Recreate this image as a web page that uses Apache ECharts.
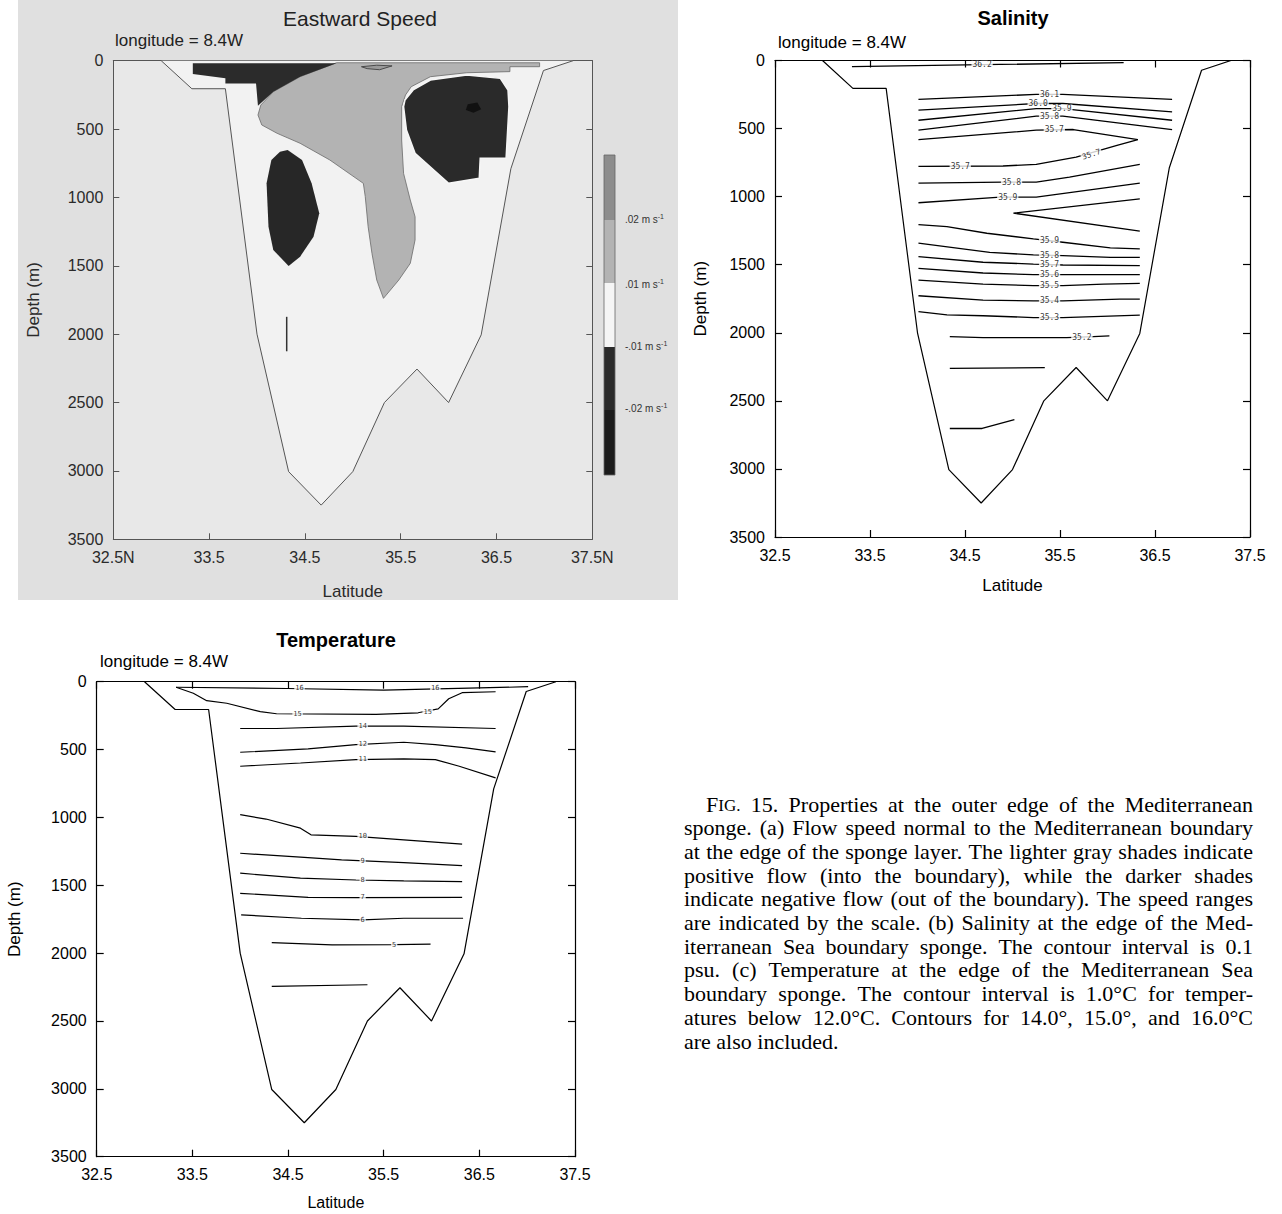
<!DOCTYPE html>
<html><head><meta charset="utf-8">
<script src="https://cdn.jsdelivr.net/npm/echarts/dist/echarts.min.js"></script>
<style>
html,body{margin:0;padding:0;background:#fff;}
#wrap{position:relative;width:1282px;height:1214px;}
#page{position:absolute;left:18px;top:0;width:660px;height:600px;background:#e0e0e0;}
#c{position:absolute;left:0;top:0;width:1282px;height:1214px;}
</style>
</head><body><div id="wrap"><div id="page"></div><div id="c"></div></div>
<script>
// ---------- tick labels ----------
const latTicksSpeed = ['32.5N','33.5','34.5','35.5','36.5','37.5N'];
const latTicks = ['32.5','33.5','34.5','35.5','36.5','37.5'];

// ---------- shared bottom topography (lat, depth m) ----------
const bottomLat   = [33.0, 33.32, 33.67, 34.0, 34.33, 34.67, 35.0, 35.33, 35.67, 36.0, 36.34, 36.65, 36.99, 37.3];
const bottomDepth = [0,    205,   205,   2000, 3005,  3250,  3005, 2500,  2255,  2500, 2005,  790,   72,    0];

// ---------- (a) eastward speed regions [lat, depth] ----------
const speedPos01 = [[34.83,15],[34.45,117],[34.17,227],[34.04,324],[34.01,397],[34.05,470],[34.21,531],[34.45,604],[34.76,726],[35.11,897],[35.13,994],[35.16,1214],[35.2,1409],[35.25,1604],[35.32,1738],[35.48,1604],[35.6,1482],[35.65,1311],[35.65,1141],[35.6,1019],[35.53,824],[35.51,580],[35.51,336],[35.55,251],[35.61,190],[35.81,117],[36.19,88],[36.64,80],[36.64,44],[36.95,44],[36.95,15]];
const speedPos02 = [[35.09,44],[35.25,33],[35.41,38],[35.28,66],[35.15,58]];
const speedNegTop = [[33.33,19],[33.33,97],[33.67,129],[33.67,166],[33.99,166],[34.01,330],[34.17,227],[34.45,117],[34.83,19]];
const speedNegLeft = [[34.32,653],[34.47,726],[34.57,897],[34.65,1116],[34.59,1287],[34.45,1433],[34.33,1501],[34.17,1384],[34.12,1214],[34.1,897],[34.15,726],[34.24,665]];
const speedNegRight = [[35.545,287],[35.63,214],[35.81,141],[36.19,105],[36.54,129],[36.62,214],[36.63,336],[36.6,714],[36.33,714],[36.32,860],[36.0,897],[35.65,677],[35.56,507],[35.53,336]];
const speedNeg02 = [[36.2,318],[36.3,305],[36.34,355],[36.26,380],[36.18,360]];
const speedTick = [[34.31,1873],[34.31,2125]];

// ---------- (b) salinity contours [lat, depth] ----------
const sal362  = [[33.31,45],[34.68,31],[36.17,16]];
const sal361  = [[34.01,286],[35.25,249],[35.53,249],[36.68,286]];
const sal360  = [[34.01,365],[35.25,316],[35.53,316],[36.68,377]];
const sal359a = [[34.01,439],[35.25,353],[35.53,353],[36.68,439]];
const sal358a = [[34.01,512],[35.25,409],[35.53,409],[36.68,507]];
const sal357a = [[34.01,581],[35.25,512],[35.64,507],[36.32,581],[36.1,623],[35.67,709],[35.25,763],[34.9,775],[34.01,777]];
const sal358b = [[34.01,900],[34.9,893],[35.25,893],[35.6,856],[36.34,763]];
const sal359b = [[34.01,1045],[34.87,1004],[35.25,1004],[36.34,900]];
const sal360b = [[36.34,1016],[35.01,1121],[36.34,1254]];
const sal359c = [[34.01,1205],[34.31,1220],[34.73,1269],[35.22,1310],[35.53,1335],[36.03,1377],[36.34,1384]];
const sal358c = [[34.01,1342],[34.76,1409],[35.22,1428],[35.53,1433],[36.03,1446],[36.34,1446]];
const sal357c = [[34.01,1441],[34.69,1482],[35.22,1495],[35.53,1502],[36.34,1507]];
const sal356  = [[34.01,1527],[34.69,1561],[35.22,1573],[36.34,1573]];
const sal355  = [[34.01,1613],[34.69,1642],[35.22,1654],[35.53,1654],[35.96,1642],[36.34,1637]];
const sal354  = [[34.01,1728],[34.69,1760],[35.22,1765],[35.53,1765],[36.13,1753],[36.34,1753]];
const sal353  = [[34.01,1844],[34.31,1868],[34.69,1875],[35.22,1888],[35.53,1888],[36.34,1871]];
const sal352  = [[34.34,2028],[34.69,2035],[35.57,2035],[35.85,2028],[36.02,2023]];
const salDeep1 = [[34.34,2261],[35.34,2256]];
const salDeep2 = [[34.34,2703],[34.68,2703],[35.02,2637]];
const salLabLat   = [34.68, 35.39, 35.27, 35.52, 35.39, 35.44, 35.83, 34.45, 34.99, 34.95, 35.39, 35.39, 35.39, 35.39, 35.39, 35.39, 35.39, 35.73];
const salLabDepth = [31, 249, 316, 353, 409, 510, 690, 777, 893, 1004, 1322, 1430, 1498, 1573, 1654, 1765, 1888, 2035];
const salLabText  = ['36.2','36.1','36.0','35.9','35.8','35.7','35.7','35.7','35.8','35.9','35.9','35.8','35.7','35.6','35.5','35.4','35.3','35.2'];

// ---------- (c) temperature contours [lat, depth] ----------
const tem16 = [[33.33,41],[34.49,50],[35.5,62],[36.5,46],[37.01,37]];
const tem15 = [[33.33,41],[33.51,85],[33.65,140],[33.86,159],[34.21,221],[34.38,236],[35.42,241],[35.86,229],[36.07,200],[36.18,126],[36.32,81],[36.67,74]];
const tem14 = [[34.0,345],[34.38,345],[35.21,328],[35.71,328],[36.67,345]];
const tem12 = [[34.0,520],[34.71,495],[35.21,463],[35.71,446],[36.04,463],[36.36,488],[36.67,517]];
const tem11 = [[34.0,623],[34.63,599],[35.21,574],[35.71,569],[36.04,574],[36.29,623],[36.67,709]];
const tem10 = [[34.0,980],[34.27,1012],[34.63,1079],[34.74,1128],[35.21,1140],[35.71,1165],[36.32,1197]];
const tem9  = [[34.0,1264],[34.63,1293],[35.06,1313],[35.71,1333],[36.32,1355]];
const tem8  = [[34.0,1411],[34.63,1448],[35.21,1461],[35.71,1468],[36.32,1473]];
const tem7  = [[34.0,1559],[34.71,1589],[35.21,1591],[36.32,1589]];
const tem6  = [[34.01,1718],[34.64,1743],[35.28,1755],[35.71,1743],[36.33,1743]];
const tem5  = [[34.33,1922],[34.96,1939],[35.61,1937],[35.99,1934]];
const temDeep = [[34.33,2245],[35.33,2233]];
const temLabLat   = [34.62, 36.04, 34.6, 35.96, 35.28, 35.28, 35.28, 35.28, 35.28, 35.28, 35.28, 35.28, 35.61];
const temLabDepth = [49, 47, 238, 226, 330, 460, 573, 1140, 1318, 1462, 1590, 1753, 1937];
const temLabText  = ['16','16','15','15','14','12','11','10','9','8','7','6','5'];

// ---------- colour scale of (a) ----------
const scaleLabels = ['.02 m s', '.01 m s', '-.01 m s', '-.02 m s'];

// ---------- caption ----------
const captionLines = [
 'FIG. 15. Properties at the outer edge of the Mediterranean',
 'sponge. (a) Flow speed normal to the Mediterranean boundary',
 'at the edge of the sponge layer. The lighter gray shades indicate',
 'positive flow (into the boundary), while the darker shades',
 'indicate negative flow (out of the boundary). The speed ranges',
 'are indicated by the scale. (b) Salinity at the edge of the Med-',
 'iterranean Sea boundary sponge. The contour interval is 0.1',
 'psu. (c) Temperature at the edge of the Mediterranean Sea',
 'boundary sponge. The contour interval is 1.0°C for temper-',
 'atures below 12.0°C. Contours for 14.0°, 15.0°, and 16.0°C',
 'are also included.'
];

// ================= build =================
const SANS = '"Liberation Sans", Arial, Helvetica, sans-serif';
const SERIF = '"Liberation Serif", "Times New Roman", serif';
const boundary = bottomLat.map((v,i)=>[v,bottomDepth[i]]);

const grids = [
  {left:113.3, top:60.7, width:479, height:478.6, show:true, backgroundColor:'#e8e8e8', borderWidth:0, outerBoundsMode:'none', containLabel:false},
  {left:775, top:60.5, width:475, height:476.5, outerBoundsMode:'none', containLabel:false},
  {left:96.7, top:681.7, width:478.3, height:475, outerBoundsMode:'none', containLabel:false}
];
const xAxis=[], yAxis=[];
function mkAxes(gi, o){
  const ls={color:o.color,width:o.lw};
  const ts={color:o.text,fontSize:16,fontFamily:SANS};
  xAxis.push({gridIndex:gi,type:'value',min:32.5,max:37.5,interval:1,position:'bottom',
    axisLine:{show:true,onZero:false,lineStyle:ls},axisTick:{show:true,inside:true,length:o.tick,lineStyle:ls},
    axisLabel:Object.assign({show:true,margin:10,hideOverlap:false,showMinLabel:true,showMaxLabel:true,formatter:v=>o.xl[Math.round(v-32.5)]},ts),
    splitLine:{show:false},name:'Latitude',nameLocation:'middle',nameGap:o.xng,
    nameTextStyle:{color:o.text,fontSize:o.nfs||17,fontFamily:SANS}});
  xAxis.push({gridIndex:gi,type:'value',min:32.5,max:37.5,interval:1,position:'top',
    axisLine:{show:true,onZero:false,lineStyle:ls},axisTick:{show:true,inside:true,length:o.tick,lineStyle:ls},
    axisLabel:{show:false},splitLine:{show:false}});
  yAxis.push({gridIndex:gi,type:'value',min:0,max:3500,interval:500,inverse:true,position:'left',
    axisLine:{show:true,onZero:false,lineStyle:ls},axisTick:{show:true,inside:true,length:o.tick,lineStyle:ls},
    axisLabel:Object.assign({show:true,margin:10,hideOverlap:false,showMinLabel:true,showMaxLabel:true,formatter:v=>String(v)},ts),
    splitLine:{show:false},name:'Depth (m)',nameLocation:'middle',nameRotate:90,nameGap:o.yng,
    nameTextStyle:{color:o.text,fontSize:17,fontFamily:SANS}});
  yAxis.push({gridIndex:gi,type:'value',min:0,max:3500,interval:500,inverse:true,position:'right',
    axisLine:{show:true,onZero:false,lineStyle:ls},axisTick:{show:true,inside:true,length:o.tick,lineStyle:ls},
    axisLabel:{show:false},splitLine:{show:false}});
}
mkAxes(0,{color:'#555',lw:1,text:'#2a2a2a',tick:6,xl:latTicksSpeed,xng:44,yng:71});
mkAxes(1,{color:'#000',lw:1.2,text:'#000',tick:7,xl:latTicks,xng:40,yng:66});
mkAxes(2,{color:'#000',lw:1.2,text:'#000',tick:7,xl:latTicks,xng:38,yng:74,nfs:16});

const series=[];
function poly(gi, pts, style, z){
  series.push({type:'custom',xAxisIndex:2*gi,yAxisIndex:2*gi,z:z,silent:true,animation:false,
    data:pts,
    renderItem:(params,api)=>{
      if(params.dataIndex!==0) return null;
      return {type:'polygon',shape:{points:pts.map(p=>api.coord(p))},style:style};
    }});
}
function line(gi, pts, color, width, z){
  series.push({type:'line',xAxisIndex:2*gi,yAxisIndex:2*gi,data:pts,symbol:'none',silent:true,animation:false,
    lineStyle:{color:color,width:width},z:z||3});
}
function labels(gi, lat, dep, txt, fs, rotIdx, rot){
  series.push({type:'scatter',xAxisIndex:2*gi,yAxisIndex:2*gi,symbolSize:1,silent:true,animation:false,z:10,
    itemStyle:{color:'rgba(0,0,0,0)'},
    data:txt.map((t,i)=>{const d={value:[lat[i],dep[i]],name:t}; if(i===rotIdx){d.label={rotate:rot};} return d;}),
    label:{show:true,position:'inside',formatter:'{b}',fontSize:fs,fontFamily:'"DejaVu Sans Mono", monospace',color:'#000',backgroundColor:'#fff',padding:[0,1]}});
}

// (a)
poly(0, boundary, {fill:'#f2f2f2'}, 1);
poly(0, speedPos01, {fill:'#b3b3b3',stroke:'#6a6a6a',lineWidth:0.8}, 2);
poly(0, speedPos02, {fill:'#9a9a9a',stroke:'#4a4a4a',lineWidth:1}, 3);
poly(0, speedNegTop, {fill:'#2b2b2b'}, 3);
poly(0, speedNegLeft, {fill:'#272727'}, 3);
poly(0, speedNegRight, {fill:'#2a2a2a',stroke:'#f6f6f6',lineWidth:1.5}, 3);
poly(0, speedNeg02, {fill:'#111'}, 4);
line(0, boundary, '#555', 1, 5);
line(0, speedTick, '#333', 1.5, 5);
// (b)
line(1, boundary, '#000', 1.2);
[sal362,sal361,sal360,sal359a,sal358a,sal357a,sal358b,sal359b,sal360b,sal359c,sal358c,sal357c,sal356,sal355,sal354,sal353,sal352,salDeep1,salDeep2]
  .forEach(p=>line(1,p,'#000',1.3));
labels(1, salLabLat, salLabDepth, salLabText, 8, 6, 18);
// (c)
line(2, boundary, '#000', 1.2);
[tem16,tem15,tem14,tem12,tem11,tem10,tem9,tem8,tem7,tem6,tem5,temDeep].forEach(p=>line(2,p,'#000',1.2));
labels(2, temLabLat, temLabDepth, temLabText, 7);

// graphic: titles, colour scale, caption
const g=[];
function txt(x,y,text,font,fill,align){
  g.push({type:'text',x:x,y:y,z:20,silent:true,style:{text:text,font:font,fill:fill||'#000',textAlign:align||'left',align:align||'left',textVerticalAlign:'middle',verticalAlign:'middle'}});
}
txt(360,18,'Eastward Speed','21px '+SANS,'#222','center');
txt(115,40,'longitude = 8.4W','17px '+SANS,'#222');
txt(1013,18,'Salinity','bold 20px '+SANS,'#000','center');
txt(778,42,'longitude = 8.4W','17px '+SANS,'#000');
txt(336,640,'Temperature','bold 20px '+SANS,'#000','center');
txt(100,661,'longitude = 8.4W','17px '+SANS,'#000');

// colour bar
const barCols=['#8d8d8d','#b3b3b3','#f5f5f5','#2b2b2b','#1c1c1c'];
const barEdges=[155,220,283,347,410,475];
barCols.forEach((c,i)=>g.push({type:'rect',z:20,silent:true,shape:{x:604,y:barEdges[i],width:11,height:barEdges[i+1]-barEdges[i]},style:{fill:c}}));
g.push({type:'rect',z:21,silent:true,shape:{x:604,y:155,width:11,height:320},style:{fill:'none',stroke:'#666',lineWidth:0.8}});
scaleLabels.forEach((s,i)=>{
  g.push({type:'text',x:625,y:[219,284,346,408][i],z:20,silent:true,
    style:{text:'{a|'+s+'}{b|-1}',rich:{a:{fontSize:10,fontFamily:SANS,fill:'#333',color:'#333'},b:{fontSize:7,fontFamily:SANS,fill:'#333',color:'#333',verticalAlign:'top',padding:[0,0,6,0]}},textVerticalAlign:'middle',verticalAlign:'middle'}});
});

// caption, justified word by word
(function(){
  const ctx=document.createElement('canvas').getContext('2d');
  const fs=22, sc=17;
  const font=fs+'px '+SERIF, scFont=sc+'px '+SERIF;
  const left=684, right=1253, top0=805, lh=23.7;
  function w(t,f){ctx.font=f;return ctx.measureText(t).width;}
  captionLines.forEach((ln,i)=>{
    const words=ln.split(' ');
    const x0=i===0?left+22:left;
    const widths=words.map(t=>t==='FIG.'?w('F',font)+w('IG.',scFont):w(t,font));
    const tot=widths.reduce((a,b)=>a+b,0);
    const last=i===captionLines.length-1;
    const gap=last?w(' ',font):(right-x0-tot)/(words.length-1);
    let x=x0; const y=top0+i*lh+10;
    words.forEach((t,j)=>{
      if(t==='FIG.'){
        const fw=w('F',font);
        g.push({type:'text',x:x,y:y,z:20,silent:true,style:{text:'F',font:font,fill:'#000',textVerticalAlign:'bottom',verticalAlign:'bottom'}});
        g.push({type:'text',x:x+fw,y:y-1,z:20,silent:true,style:{text:'IG.',font:scFont,fill:'#000',textVerticalAlign:'bottom',verticalAlign:'bottom'}});
      } else {
        g.push({type:'text',x:x,y:y,z:20,silent:true,style:{text:t,font:font,fill:'#000',textVerticalAlign:'bottom',verticalAlign:'bottom'}});
      }
      x+=widths[j]+gap;
    });
  });
})();

const chart=echarts.init(document.getElementById('c'),null,{renderer:'svg'});
chart.setOption({
  backgroundColor:'transparent',
  animation:false,
  grid:grids, xAxis:xAxis, yAxis:yAxis, series:series, graphic:g
});
</script></body></html>
